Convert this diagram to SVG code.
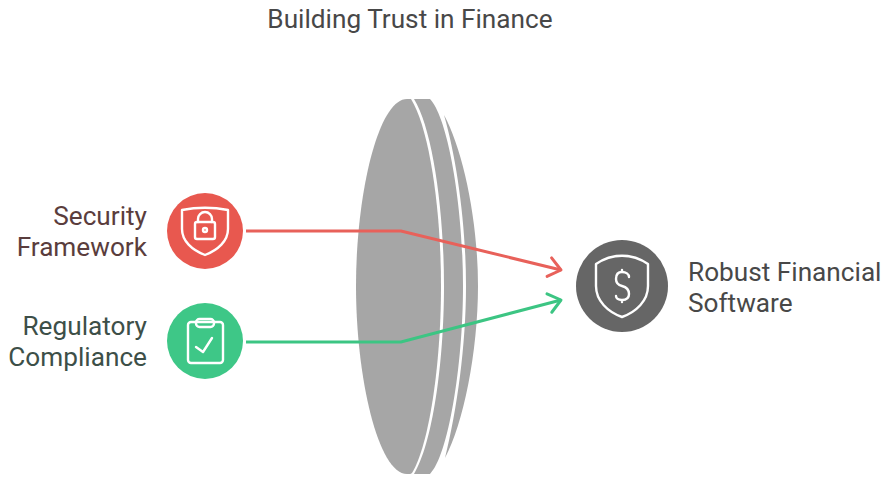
<svg xmlns="http://www.w3.org/2000/svg" width="890" height="496" viewBox="0 0 890 496">
<defs>
<marker id="ar" markerUnits="userSpaceOnUse" viewBox="-14 -12 17 24" markerWidth="17" markerHeight="24" refX="0" refY="0" orient="auto"><path d="M-12,-9.500L0,0L-12,9.500" fill="none" stroke="context-stroke" stroke-width="3" stroke-linecap="round" stroke-linejoin="round"/></marker>
</defs>
<style>
text{font-family:"Roboto","Liberation Sans",sans-serif;font-size:26.200px}
.ic{fill:none;stroke:#fff;stroke-width:2.400;stroke-linecap:round;stroke-linejoin:round}
.cn{fill:none;stroke-width:3;marker-end:url(#ar)}
.ln{fill:#a6a6a6}
</style>
<rect width="890" height="496" fill="#fff"/>
<text x="410" y="28" text-anchor="middle" fill="#484848">Building Trust in Finance</text>
<g id="lens">
<path class="ln" d="M444,115C463,150 478,220 478,286C478,352 463,425 445,458C457,410 466,345 466,286C466,225 457,160 444,115Z"/>
<path class="ln" d="M414,99L430,99C448,118 463,205 463,286C463,367 448,456 430,474L414,474C432,445 444,365 444,286C444,207 432,128 414,99Z"/>
<path class="ln" d="M407,99C378,99 356,195 356,286C356,377 378,474 407,474C410,474 411,474 412,473C429,445 441,365 441,286C441,207 429,128 411,99C410,99 409,99 407,99Z"/>
</g>
<g id="connectors">
<path class="cn" d="M246,231L401,231L561,270" stroke="#e8615a"/>
<path class="cn" d="M246,342L401,342L561,300" stroke="#3cc583"/>
</g>
<g id="security-framework">
<circle cx="205" cy="231" r="38" fill="#e8584f"/>
<path class="ic" d="M182,210C197,207 213,207 228,210L228,229C228,241 218,250 205,255C192,250 182,241 182,229Z"/>
<rect class="ic" x="195" y="222" width="20" height="17" rx="2"/>
<path class="ic" d="M198,222L198,219A7,7 0 0 1 212,219L212,222"/>
<circle class="ic" cx="205" cy="230" r="2"/>
<text x="147" y="225" text-anchor="end" fill="#5a3d3d">Security</text>
<text x="147" y="256" text-anchor="end" fill="#5a3d3d">Framework</text>
</g>
<g id="regulatory-compliance">
<circle cx="205" cy="341" r="38" fill="#3ec787"/>
<rect class="ic" x="188" y="322" width="35" height="41" rx="3"/>
<rect class="ic" x="196" y="319" width="18" height="8" rx="3.500" fill="#3ec787"/>
<path class="ic" d="M196,347L203,352L212,338"/>
<text x="147" y="335" text-anchor="end" fill="#3d4f48">Regulatory</text>
<text x="147" y="366" text-anchor="end" fill="#3d4f48">Compliance</text>
</g>
<g id="robust-financial-software">
<circle cx="622" cy="286" r="46" fill="#666"/>
<path class="ic" d="M596,264C612,253 632,253 648,264L648,286C648,301 636,312 622,317C608,312 596,301 596,286Z"/>
<path class="ic" d="M629,277C629,274 626,272 622,272C618,272 616,275 616,279C616,283 618,285 622,286C626,287 629,290 629,294C629,298 626,300 622,300C618,300 616,298 616,296M622,270L622,272M622,300L622,302"/>
<text x="688" y="281" fill="#484848">Robust Financial</text>
<text x="688" y="312" fill="#484848">Software</text>
</g>
</svg>
